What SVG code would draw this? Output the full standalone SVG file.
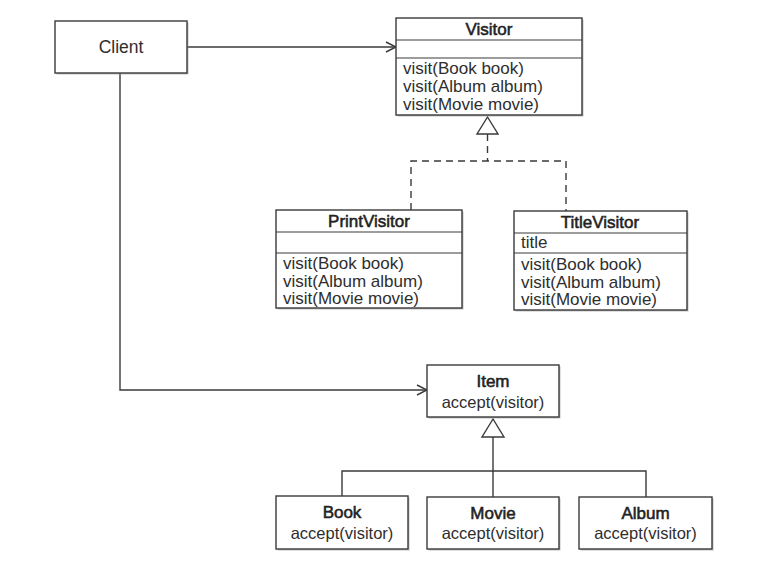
<svg xmlns="http://www.w3.org/2000/svg" width="768" height="569" viewBox="0 0 768 569">
  <defs>
    <style>
      .box { fill: #ffffff; stroke: #3a3a3a; stroke-width: 1.4; }
      .shadow { fill: #9a9a9a; opacity: 0.6; }
      .sep { stroke: #3a3a3a; stroke-width: 1.2; fill: none; }
      .line { stroke: #3a3a3a; stroke-width: 1.4; fill: none; }
      .dash { stroke: #3a3a3a; stroke-width: 1.4; fill: none; stroke-dasharray: 7 5; }
      .tri { fill: #ffffff; stroke: #3a3a3a; stroke-width: 1.4; }
      text { font-family: "Liberation Sans", Arial, sans-serif; font-size: 17px; fill: #2e2e2e; }
      .title { font-size: 17px; text-anchor: middle; fill: #222222; stroke: #222222; stroke-width: 0.55; }
      .mid { text-anchor: middle; font-size: 16.5px; }
      .client { text-anchor: middle; font-size: 17.5px; }
    </style>
    <marker id="open" viewBox="0 0 12 12" refX="11" refY="6" markerWidth="12" markerHeight="12" markerUnits="userSpaceOnUse" orient="auto">
      <path d="M1,1 L11,6 L1,11" fill="none" stroke="#3a3a3a" stroke-width="1.4"/>
    </marker>
  </defs>
  <rect width="768" height="569" fill="#ffffff"/>

  <g id="connectors">
    <line class="line" x1="187" y1="47" x2="396" y2="47" marker-end="url(#open)"/>
    <polyline class="line" points="120,73 120,390 427,390" marker-end="url(#open)"/>
    <polygon class="tri" points="487.5,117 477,134 498,134"/>
    <line class="dash" x1="487.5" y1="134" x2="487.5" y2="161"/>
    <polyline class="dash" points="411,210 411,161 566,161 566,211"/>
    <polygon class="tri" points="493,419 482,437 504,437"/>
    <line class="line" x1="493" y1="437" x2="493" y2="497"/>
    <polyline class="line" points="342,496 342,471 646,471 646,497"/>
  </g>

  <g id="client">
    <rect class="shadow" x="56.5" y="22.5" width="132" height="52"/>
    <rect class="box" x="55" y="21" width="132" height="52"/>
    <text class="client" x="121" y="53">Client</text>
  </g>

  <g id="visitor">
    <rect class="shadow" x="397.5" y="19.5" width="186" height="97"/>
    <rect class="box" x="396" y="18" width="186" height="97"/>
    <line class="sep" x1="396" y1="40" x2="582" y2="40"/>
    <line class="sep" x1="396" y1="58" x2="582" y2="58"/>
    <text class="title" x="489" y="35">Visitor</text>
    <text x="403" y="74">visit(Book book)</text>
    <text x="403" y="92">visit(Album album)</text>
    <text x="403" y="110">visit(Movie movie)</text>
  </g>

  <g id="printvisitor">
    <rect class="shadow" x="277.5" y="211.5" width="186" height="98"/>
    <rect class="box" x="276" y="210" width="186" height="98"/>
    <line class="sep" x1="276" y1="232" x2="462" y2="232"/>
    <line class="sep" x1="276" y1="253" x2="462" y2="253"/>
    <text class="title" x="369" y="227">PrintVisitor</text>
    <text x="283" y="269">visit(Book book)</text>
    <text x="283" y="286.5">visit(Album album)</text>
    <text x="283" y="304">visit(Movie movie)</text>
  </g>

  <g id="titlevisitor">
    <rect class="shadow" x="515.5" y="212.5" width="173" height="99"/>
    <rect class="box" x="514" y="211" width="173" height="99"/>
    <line class="sep" x1="514" y1="233" x2="687" y2="233"/>
    <line class="sep" x1="514" y1="253" x2="687" y2="253"/>
    <text class="title" x="600" y="228">TitleVisitor</text>
    <text x="521" y="248">title</text>
    <text x="521" y="270">visit(Book book)</text>
    <text x="521" y="287.5">visit(Album album)</text>
    <text x="521" y="305">visit(Movie movie)</text>
  </g>

  <g id="item">
    <rect class="shadow" x="428.5" y="366.5" width="132" height="52"/>
    <rect class="box" x="427" y="365" width="132" height="52"/>
    <text class="title" x="493" y="387">Item</text>
    <text class="mid" x="493" y="408">accept(visitor)</text>
  </g>

  <g id="book">
    <rect class="shadow" x="277.5" y="497.5" width="132" height="53"/>
    <rect class="box" x="276" y="496" width="132" height="53"/>
    <text class="title" x="342" y="518">Book</text>
    <text class="mid" x="342" y="539">accept(visitor)</text>
  </g>

  <g id="movie">
    <rect class="shadow" x="428.5" y="498.5" width="132" height="52"/>
    <rect class="box" x="427" y="497" width="132" height="52"/>
    <text class="title" x="493" y="519">Movie</text>
    <text class="mid" x="493" y="539">accept(visitor)</text>
  </g>

  <g id="album">
    <rect class="shadow" x="580.5" y="498.5" width="133" height="52"/>
    <rect class="box" x="579" y="497" width="133" height="52"/>
    <text class="title" x="645.5" y="519">Album</text>
    <text class="mid" x="645.5" y="539">accept(visitor)</text>
  </g>
</svg>
